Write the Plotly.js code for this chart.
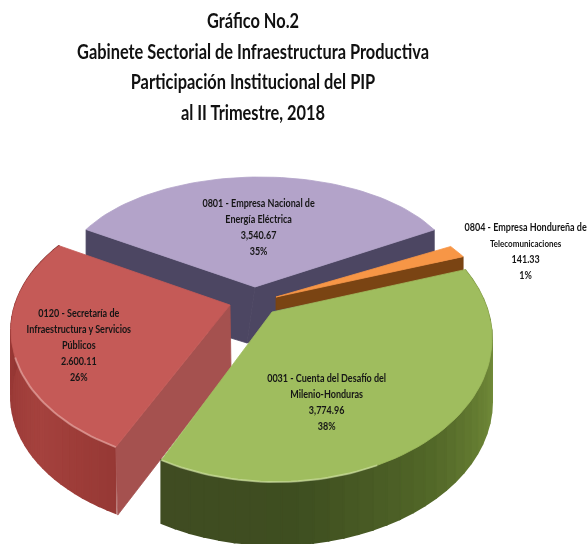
<!DOCTYPE html>
<html><head><meta charset="utf-8">
<script src="https://cdn.plot.ly/plotly-3.0.1.min.js"></script>
<style>html,body{margin:0;padding:0;background:#fff}#c{width:587px;height:544px;filter:blur(0.6px)}</style>
</head><body><div id="c"></div>
<script>
const categories = ["0801 - Empresa Nacional de Energía Eléctrica","0804 - Empresa Hondureña de Telecomunicaciones","0031 - Cuenta del Desafío del Milenio-Honduras","0120 - Secretaría de Infraestructura y Servicios Públicos"];
const values = [3540.67,141.33,3774.96,2600.11];
const valueLabels = ["3,540.67","141.33","3,774.96","2.600.11"];
const percentLabels = ["35%","1%","38%","26%"];
const titleLines = ["Gráfico No.2","Gabinete Sectorial de Infraestructura Productiva","Participación Institucional del PIP","al II Trimestre, 2018"];

// Perspective geometry of each slice (pixel-like axis units)
const geo = [
 {apex:[255,287],cx:260,cy:276,rx:197,ry:99, start:-152,stretch:0.98,h:62,top:"#b3a3c9"},
 {apex:[276,297],cx:276,cy:310,rx:214,ry:110,start:-35.6,stretch:1.3,h:16,top:"#f79646"},
 {apex:[272,312],cx:276,cy:339,rx:216,ry:143,start:-29,stretch:1.118,h:63,top:"#9fbd5e"},
 {apex:[230,305],cx:225,cy:331,rx:214,ry:135,start:120.7,stretch:1.058,h:66,top:"#c55a57"}
];
const total = values.reduce((a,b)=>a+b,0);
const spans = values.map((v,i)=>v/total*360*geo[i].stretch);
const rad = d=>d*Math.PI/180;
function arc(g,a0,a1,n,dy=0){const p=[];for(let i=0;i<=n;i++){const a=rad(a0+(a1-a0)*(n?i/n:0));p.push([g.cx+g.rx*Math.cos(a),g.cy+g.ry*Math.sin(a)+dy]);}return p;}
const traces=[];
function poly(pts,color,lw=0.8){traces.push({type:"scatter",mode:"lines",x:[...pts.map(p=>p[0]),pts[0][0]],y:[...pts.map(p=>p[1]),pts[0][1]],fill:"toself",fillcolor:color,line:{color:color,width:lw},hoverinfo:"skip",showlegend:false});}
function rim(g,a0,a1,color,w){const p=arc(g,a0,a1,30);traces.push({type:"scatter",mode:"lines",x:p.map(q=>q[0]),y:p.map(q=>q[1]),line:{color:color,width:w},hoverinfo:"skip",showlegend:false});}
function mix(stops,t){let i=0;while(i<stops.length-2&&t>stops[i+1][0])i++;const [t0,c0]=stops[i],[t1,c1]=stops[i+1];const f=Math.max(0,Math.min(1,(t-t0)/(t1-t0)));return "rgb("+c0.map((c,k)=>Math.round(c+(c1[k]-c)*f)).join(",")+")";}
function wall(g,a0,a1,stops){const n=36;for(let i=0;i<n;i++){const b0=a0+(a1-a0)*i/n,b1=a0+(a1-a0)*(i+1)/n;const t=arc(g,b0,b1,2),b=arc(g,b1,b0,2,g.h);poly([...t,...b],mix(stops,(b0+b1)/2),1.8);}}
function drawTop(g,s){poly([g.apex,...arc(g,g.start,g.start+s,60)],g.top);}
function endWall(g,ang,color,h0,dx,adx){const e=arc(g,ang,ang,0)[0];poly([g.apex,e,[e[0]+dx,e[1]+g.h+2],[g.apex[0]+adx,g.apex[1]+h0]],color);}

const [gP,gO,gG,gR]=geo;
// Purple: two inner cut faces then the top
endWall(gP,gP.start,"#4c4662",56,0,-8);
endWall(gP,gP.start+spans[0],"#4c4662",56,0,-8);
drawTop(gP,spans[0]);
// Orange: front wall then top
const oEnd=arc(gO,gO.start+spans[1],gO.start+spans[1],0)[0];
poly([gO.apex,oEnd,[oEnd[0],oEnd[1]+gO.h+1],[gO.apex[0],gO.apex[1]+13]],"#7a4413");
drawTop(gO,spans[1]);
// Red: outer wall, end wall, top
wall(gR,gR.start,gR.start+spans[3],[[120,[150,56,52]],[150,[165,66,62]],[190,[150,55,52]],[220,[120,40,38]]]);
endWall(gR,gR.start,"#a5514f",63,2,1);
drawTop(gR,spans[3]);
rim(gR,gR.start,gR.start+48,"rgba(255,225,220,0.4)",2);
// Green: outer wall, top
wall(gG,gG.start,gG.start+spans[2],[[-29,[125,150,65]],[10,[110,135,55]],[45,[82,103,40]],[85,[62,78,32]],[122,[64,76,34]]]);
drawTop(gG,spans[2]);
rim(gG,gG.start+spans[2]-60,gG.start+spans[2],"rgba(240,250,210,0.4)",2);

const FONT="Lato, sans-serif";
const labelSpec=[
 {x:258,y:226,size:11,lines:["0801 - Empresa Nacional de","Energía Eléctrica"]},
 {x:525,y:250,size:11,lines:["0804 - Empresa Hondureña de","<span style='font-size:9.8px'>Telecomunicaciones</span>"]},
 {x:326,y:401,size:11,lines:["0031 - Cuenta del Desafío del","Milenio-Honduras"]},
 {x:79,y:344,size:11,lines:["0120 - Secretaría de","Infraestructura y Servicios","Públicos"]}
];
const annotations=labelSpec.map((l,i)=>({x:l.x,y:l.y,xref:"x",yref:"y",showarrow:false,align:"center",
 font:{family:FONT,size:12.4,color:"#151515",weight:700},
 text:[...l.lines,valueLabels[i],percentLabels[i]].map(s=>s.startsWith("<span")?s:"<span style='font-size:"+l.size+"px'>"+s+"</span>").join("<br>")}));

// Calibri-like condensed look: narrow the rendered text horizontally about its own centre
function squeeze(gd,factor){gd.querySelectorAll(".gtitle, .annotation-text").forEach(t=>{const b=t.getBBox();const c=b.x+b.width/2;t.setAttribute("transform","translate("+c+",0) scale("+factor+",1) translate("+(-c)+",0)");});}

Plotly.newPlot("c",traces,{
 width:587,height:544,margin:{l:0,r:0,t:0,b:0},paper_bgcolor:"#fff",plot_bgcolor:"#fff",showlegend:false,
 xaxis:{range:[0,587],visible:false,fixedrange:true},
 yaxis:{range:[544,0],visible:false,fixedrange:true},
 title:{text:titleLines.map(s=>"<span style='font-size:20px'>"+s+"</span>").join("<br>"),
  font:{family:FONT,size:23.5,color:"#111",weight:700},x:253/587,xanchor:"center",y:1-28/544,yanchor:"top"},
 annotations
},{staticPlot:true}).then(gd=>squeeze(gd,0.82));
</script></body></html>
